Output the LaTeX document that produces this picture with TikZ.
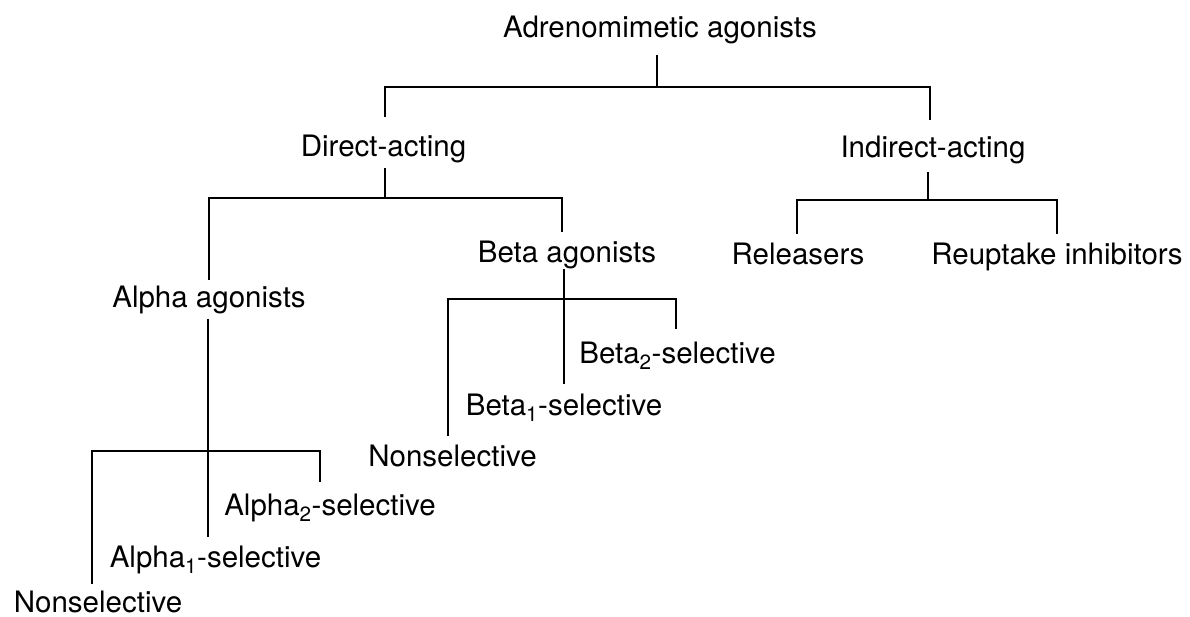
\documentclass[tikz,border=0pt]{standalone}
\usepackage{fontspec}
\setmainfont{TeX Gyre Heros}
\begin{document}
\begin{tikzpicture}[x=1pt,y=-1pt,
  lbl/.style={inner sep=0pt,anchor=base,font=\fontsize{29.5}{35}\selectfont},
  conn/.style={line width=1.3pt,black}]
\useasboundingbox (0,0) rectangle (1190,617);
% labels
\node[lbl] (adr) at (660,38) {Adrenomimetic agonists};
\node[lbl] (dir) at (383.5,157) {Direct-acting};
\node[lbl] (ind) at (933,158) {Indirect-acting};
\node[lbl] (alp) at (209,307) {Alpha agonists};
\node[lbl] (bet) at (567,263) {Beta agonists};
\node[lbl] (rel) at (798,265) {Releasers};
\node[lbl] (reu) at (1057,265) {Reuptake inhibitors};
\node[lbl] (b2) at (677.5,363) {Beta\textsubscript{2}-selective};
\node[lbl] (b1) at (564,415) {Beta\textsubscript{1}-selective};
\node[lbl] (bn) at (452.5,466) {Nonselective};
\node[lbl] (a2) at (330,515) {Alpha\textsubscript{2}-selective};
\node[lbl] (a1) at (215.5,567) {Alpha\textsubscript{1}-selective};
\node[lbl] (an) at (98,612) {Nonselective};
% junction coordinates
\coordinate (adr-s) at (657,55);
\coordinate (adr-j) at (657,87);
\coordinate (adr-l) at (385,87);
\coordinate (adr-r) at (930,87);
\coordinate (dir-n) at (385,117);
\coordinate (ind-n) at (930,120);
\coordinate (dir-s) at (385,168);
\coordinate (dir-j) at (385,198);
\coordinate (dir-l) at (209,198);
\coordinate (dir-r) at (562,198);
\coordinate (alp-n) at (209,280);
\coordinate (bet-n) at (562,232);
\coordinate (ind-s) at (928,172);
\coordinate (ind-j) at (928,200);
\coordinate (ind-l) at (797,200);
\coordinate (ind-r) at (1057,200);
\coordinate (rel-n) at (797,234);
\coordinate (reu-n) at (1057,234);
\coordinate (bet-s) at (564,269);
\coordinate (bet-l) at (448,299);
\coordinate (bet-r) at (676,299);
\coordinate (b1-n) at (564,384);
\coordinate (bn-n) at (448,436);
\coordinate (b2-n) at (676,329);
\coordinate (alp-s) at (208,319);
\coordinate (alp-l) at (92,451);
\coordinate (alp-r) at (320,451);
\coordinate (a1-n) at (208,537);
\coordinate (an-n) at (92,584);
\coordinate (a2-n) at (320,482);
% connectors
\draw[conn] (adr-s) -- (adr-j);
\draw[conn] (dir-n) -- (adr-l) -- (adr-r) -- (ind-n);
\draw[conn] (dir-s) -- (dir-j);
\draw[conn] (alp-n) -- (dir-l) -- (dir-r) -- (bet-n);
\draw[conn] (ind-s) -- (ind-j);
\draw[conn] (rel-n) -- (ind-l) -- (ind-r) -- (reu-n);
\draw[conn] (bet-s) -- (b1-n);
\draw[conn] (bn-n) -- (bet-l) -- (bet-r) -- (b2-n);
\draw[conn] (alp-s) -- (a1-n);
\draw[conn] (an-n) -- (alp-l) -- (alp-r) -- (a2-n);
\end{tikzpicture}
\end{document}
